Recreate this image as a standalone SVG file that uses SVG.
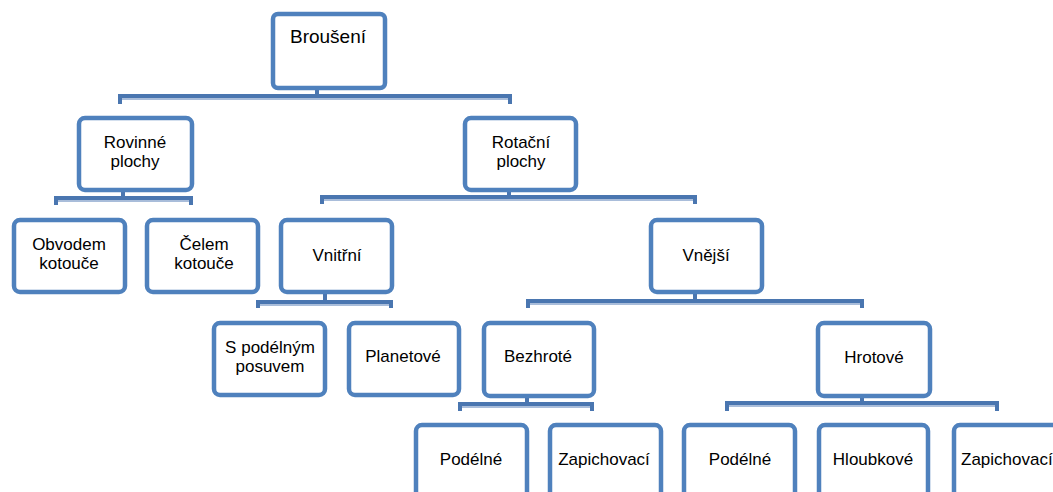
<svg xmlns="http://www.w3.org/2000/svg" width="1053" height="492" viewBox="0 0 1053 492">
<style>
.box{fill:#ffffff;stroke:#4F81BD;stroke-width:4.5}
.t{font-family:"Liberation Sans",Arial,sans-serif;font-size:17px;fill:#000;text-anchor:middle}
.title{font-size:19px}
.bar{fill:none;stroke:#4A76B0;stroke-width:4;stroke-linejoin:miter;stroke-linecap:butt}
.hl{stroke:#A9BDDA;stroke-width:2}
.stem{stroke:#4A76B0;stroke-width:4}
</style>
<rect width="1053" height="492" fill="#ffffff"/>
<g id="connectors">
  <!-- Brouseni -->
  <line class="stem" x1="317" y1="89" x2="317" y2="96"/>
  <path class="bar" d="M120 104 V96 H510 V104"/>
  <line class="hl" x1="122" y1="99" x2="508" y2="99"/>
  <!-- Rovinne -->
  <line class="stem" x1="123" y1="191" x2="123" y2="198"/>
  <path class="bar" d="M56 205 V198 H191 V205"/>
  <line class="hl" x1="58" y1="201" x2="189" y2="201"/>
  <!-- Rotacni -->
  <line class="stem" x1="509" y1="191" x2="509" y2="197"/>
  <path class="bar" d="M322 204 V197 H695 V204"/>
  <line class="hl" x1="324" y1="200" x2="693" y2="200"/>
  <!-- Vnitrni -->
  <line class="stem" x1="325" y1="294" x2="325" y2="302"/>
  <path class="bar" d="M258 308 V302 H391 V308"/>
  <line class="hl" x1="260" y1="305" x2="389" y2="305"/>
  <!-- Vnejsi -->
  <line class="stem" x1="695" y1="293" x2="695" y2="301"/>
  <path class="bar" d="M528 308 V301 H862 V308"/>
  <line class="hl" x1="530" y1="304" x2="860" y2="304"/>
  <!-- Bezhrote -->
  <line class="stem" x1="527" y1="398" x2="527" y2="404"/>
  <path class="bar" d="M460 411 V404 H592 V411"/>
  <line class="hl" x1="462" y1="407" x2="590" y2="407"/>
  <!-- Hrotove -->
  <line class="stem" x1="862" y1="398" x2="862" y2="403"/>
  <path class="bar" d="M727 411 V403 H997 V411"/>
  <line class="hl" x1="729" y1="406" x2="995" y2="406"/>
</g>
<g id="n-brouseni"><rect class="box" x="273" y="14" width="112" height="74" rx="5"/><text class="t title" x="328" y="43">Broušení</text></g>
<g id="n-rovinne"><rect class="box" x="79" y="118" width="113" height="72" rx="6"/><text class="t" x="135" y="148">Rovinné</text><text class="t" x="135" y="167">plochy</text></g>
<g id="n-rotacni"><rect class="box" x="465" y="118" width="111" height="72" rx="6"/><text class="t" x="521" y="148">Rotační</text><text class="t" x="521" y="167">plochy</text></g>
<g id="n-obvodem"><rect class="box" x="14" y="220" width="111" height="72" rx="6"/><text class="t" x="69" y="250">Obvodem</text><text class="t" x="69" y="269">kotouče</text></g>
<g id="n-celem"><rect class="box" x="147" y="220" width="111" height="72" rx="6"/><text class="t" x="204" y="250">Čelem</text><text class="t" x="204" y="269">kotouče</text></g>
<g id="n-vnitrni"><rect class="box" x="281" y="220" width="111" height="72" rx="6"/><text class="t" x="337" y="261">Vnitřní</text></g>
<g id="n-vnejsi"><rect class="box" x="651" y="220" width="111" height="72" rx="6"/><text class="t" x="706" y="261">Vnější</text></g>
<g id="n-spodelnym"><rect class="box" x="214" y="323" width="111" height="72" rx="6"/><text class="t" x="270" y="353">S podélným</text><text class="t" x="270" y="372">posuvem</text></g>
<g id="n-planetove"><rect class="box" x="349" y="323" width="110" height="72" rx="6"/><text class="t" x="403" y="362">Planetové</text></g>
<g id="n-bezhrote"><rect class="box" x="484" y="323" width="110" height="73" rx="6"/><text class="t" x="538" y="362">Bezhroté</text></g>
<g id="n-hrotove"><rect class="box" x="818" y="323" width="112" height="73" rx="6"/><text class="t" x="874" y="363">Hrotové</text></g>
<g id="n-podelne1"><rect class="box" x="416" y="425" width="111" height="73" rx="6"/><text class="t" x="471" y="465">Podélné</text></g>
<g id="n-zapichovaci1"><rect class="box" x="550" y="425" width="111" height="73" rx="6"/><text class="t" x="604" y="465">Zapichovací</text></g>
<g id="n-podelne2"><rect class="box" x="684" y="425" width="111" height="73" rx="6"/><text class="t" x="740" y="465">Podélné</text></g>
<g id="n-hloubkove"><rect class="box" x="819" y="425" width="109" height="73" rx="6"/><text class="t" x="873" y="465">Hloubkové</text></g>
<g id="n-zapichovaci2"><rect class="box" x="954" y="425" width="112" height="73" rx="6"/><text class="t" x="961" y="465" style="text-anchor:start">Zapichovací</text></g>
</svg>
